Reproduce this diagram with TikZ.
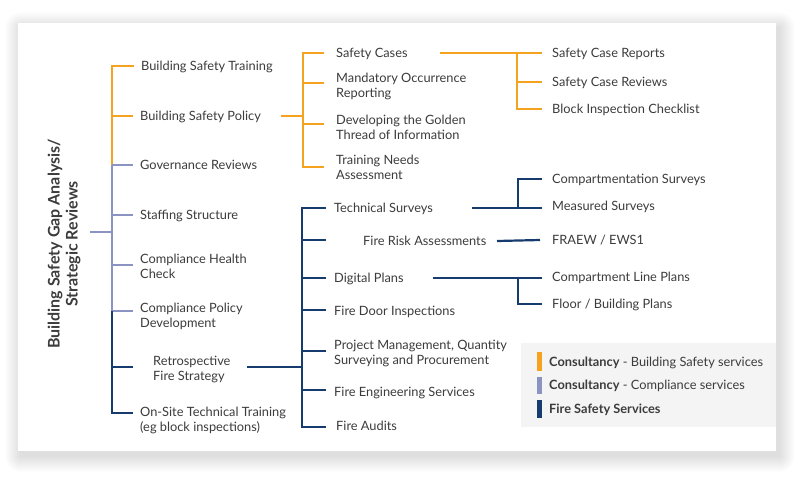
\documentclass[tikz,border=0pt]{standalone}
\usepackage{fontspec}
\setmainfont{Lato}
\definecolor{oc}{HTML}{F5A31E}
\definecolor{lc}{HTML}{8A93C2}
\definecolor{nc}{HTML}{163B6E}
\definecolor{tc}{HTML}{3C3C3C}
\definecolor{legbg}{HTML}{F4F4F4}
\tikzset{
  oline/.style={draw=oc, line width=2.2pt},
  lline/.style={draw=lc, line width=2.2pt},
  nline/.style={draw=nc, line width=2.2pt},
  lbl/.style={anchor=base west, inner sep=0pt, text=tc, font=\fontsize{12.8}{15}\selectfont},
  lbltwo/.style={anchor=west, inner sep=0pt, text=tc, align=left, font=\fontsize{12.8}{15}\selectfont},
  titlebox/.style={rotate=90, align=center, inner sep=0pt, text=tc, font=\bfseries\fontsize{16}{18}\selectfont},
  legtxt/.style={anchor=base west, inner sep=0pt, text=tc, font=\fontsize{12.8}{15}\selectfont},
}
\begin{document}
\begin{tikzpicture}[x=1pt,y=-1pt]
\useasboundingbox (0,0) rectangle (800,480);
\fill[white] (0,0) rectangle (800,480);
\foreach \i in {1,...,16} \fill[black,opacity=0.009,rounded corners=\i pt] ({18-\i+3},{23-\i+5}) rectangle ({776+\i+3},{451+\i+5});
\fill[white] (18,23) rectangle (776,451);
\fill[legbg] (521,343) rectangle (776,427);

% title
\node[titlebox] (title) at (64,244) {Building Safety Gap Analysis/\\Strategic Reviews};

% level 1
\node[lbl] (bst) at (141,70.5) {Building Safety Training};
\node[lbl] (bsp) at (140,120.5) {Building Safety Policy};
\node[lbl] (gov) at (140,169.5) {Governance Reviews};
\node[lbl] (staff) at (140,219.5) {Staffing Structure};
\node[lbltwo] (chc) at (140,266) {Compliance Health\\Check};
\node[lbltwo] (cpd) at (140,316.5) {Compliance Policy\\Development};
\node[lbltwo] (rfs) at (153,369) {Retrospective\\Fire Strategy};
\node[lbltwo] (ostt) at (140,420) {On-Site Technical Training\\(eg block inspections)};

% level 2 orange
\node[lbl] (sc) at (336,57.5) {Safety Cases};
\node[lbltwo] (mor) at (336,86) {Mandatory Occurrence\\Reporting};
\node[lbltwo] (gt) at (336,127) {Developing the Golden\\Thread of Information};
\node[lbltwo] (tna) at (336,167.5) {Training Needs\\Assessment};
% level 3 orange
\node[lbl] (scr) at (552,57.5) {Safety Case Reports};
\node[lbl] (screv) at (552,86.5) {Safety Case Reviews};
\node[lbl] (bic) at (552,113.5) {Block Inspection Checklist};

% level 2 navy
\node[lbl] (ts) at (334,212.5) {Technical Surveys};
\node[lbl] (fra) at (363,245.5) {Fire Risk Assessments};
\node[lbl] (dp) at (334,282.5) {Digital Plans};
\node[lbl] (fdi) at (334,315.5) {Fire Door Inspections};
\node[lbltwo] (pm) at (334,353) {Project Management, Quantity\\Surveying and Procurement};
\node[lbl] (fes) at (334,396.5) {Fire Engineering Services};
\node[lbl] (fa) at (336,430.5) {Fire Audits};
% level 3 navy
\node[lbl] (cs) at (552,183.5) {Compartmentation Surveys};
\node[lbl] (ms) at (552,210.5) {Measured Surveys};
\node[lbl] (fraew) at (552,244.5) {FRAEW / EWS1};
\node[lbl] (clp) at (552,281.5) {Compartment Line Plans};
\node[lbl] (fbp) at (552,308.5) {Floor / Building Plans};

% trunk coordinates
\coordinate (root) at (90,232);
\coordinate (tr) at (112,232);
\coordinate (t1) at (112,66);
\coordinate (t2) at (112,116);
\coordinate (t3) at (112,165);
\coordinate (t4) at (112,215);
\coordinate (t5) at (112,265);
\coordinate (t6) at (112,311);
\coordinate (t7) at (112,367);
\coordinate (t8) at (112,413);

\draw[lline] (root) -- (tr);
\draw[oline, shorten <=7pt] (t1 -| bst.west) -- (t1) -- (t3);
\draw[oline, shorten >=7pt] (t2) -- (t2 -| bsp.west);
\draw[lline] (t3) -- (t6);
\draw[lline, shorten >=7pt] (t3) -- (t3 -| gov.west);
\draw[lline, shorten >=7pt] (t4) -- (t4 -| staff.west);
\draw[lline, shorten >=7pt] (t5) -- (t5 -| chc.west);
\draw[lline, shorten >=7pt] (t6) -- (t6 -| cpd.west);
\draw[nline, shorten >=7pt] (t6) -- (t8) -- (t8 -| ostt.west);
\draw[nline, shorten >=20pt] (t7) -- (t7 -| rfs.west);

% orange level 2
\coordinate (bspo) at (281,116);
\coordinate (oa) at (303,53);
\coordinate (ob) at (303,83);
\coordinate (oj) at (303,116);
\coordinate (oc2) at (303,124);
\coordinate (od) at (303,167);
\draw[oline] (bspo) -- (oj);
\draw[oline, shorten <=12pt, shorten >=12pt] (oa -| sc.west) -- (oa) -- (od) -- (od -| tna.west);
\draw[oline, shorten >=12pt] (ob) -- (ob -| mor.west);
\draw[oline, shorten >=12pt] (oc2) -- (oc2 -| gt.west);

% orange level 3
\coordinate (sco) at (440,53);
\coordinate (pa) at (517,53);
\coordinate (pb) at (517,82);
\coordinate (pc) at (517,109);
\draw[oline, shorten >=10pt] (sco) -- (pa -| scr.west);
\draw[oline, shorten >=10pt] (pa) -- (pc) -- (pc -| bic.west);
\draw[oline, shorten >=10pt] (pb) -- (pb -| screv.west);

% navy level 2
\coordinate (rfso) at (247,367);
\coordinate (na) at (302,208);
\coordinate (nb) at (302,240);
\coordinate (nc2) at (302,278);
\coordinate (nd) at (302,310);
\coordinate (ne) at (302,351);
\coordinate (nj) at (302,367);
\coordinate (nf) at (302,390);
\coordinate (ng) at (302,427);
\draw[nline] (rfso) -- (nj);
\draw[nline, shorten <=8pt, shorten >=10pt] (na -| ts.west) -- (na) -- (ng) -- (ng -| fa.west);
\draw[nline, shorten >=37pt] (nb) -- (nb -| fra.west);
\draw[nline, shorten >=8pt] (nc2) -- (nc2 -| dp.west);
\draw[nline, shorten >=8pt] (nd) -- (nd -| fdi.west);
\draw[nline, shorten >=8pt] (ne) -- (ne -| pm.west);
\draw[nline, shorten >=8pt] (nf) -- (nf -| fes.west);

% navy level 3
\coordinate (tso) at (472,208);
\coordinate (qa) at (518,179);
\coordinate (qb) at (518,208);
\draw[nline, shorten >=10pt] (tso) -- (qb -| ms.west);
\draw[nline, shorten >=10pt] (qb) -- (qa) -- (qa -| cs.west);
\coordinate (frao) at (497,241);
\coordinate (fraewi) at (540,240);
\draw[nline] (frao) -- (fraewi);
\coordinate (dpo) at (433,278);
\coordinate (qc) at (518,278);
\coordinate (qd) at (518,304);
\draw[nline, shorten >=10pt] (dpo) -- (qc -| clp.west);
\draw[nline, shorten >=10pt] (qc) -- (qd) -- (qd -| fbp.west);

% legend
\fill[oc] (537,352) rectangle (542,371);
\fill[lc] (537,377) rectangle (542,394);
\fill[nc] (537,400) rectangle (542,418);
\node[legtxt] (lg1) at (549,366.5) {\textbf{Consultancy} - Building Safety services};
\node[legtxt] (lg2) at (549,389.5) {\textbf{Consultancy} - Compliance services};
\node[legtxt] (lg3) at (549,413.5) {\textbf{Fire Safety Services}};
\end{tikzpicture}
\end{document}
